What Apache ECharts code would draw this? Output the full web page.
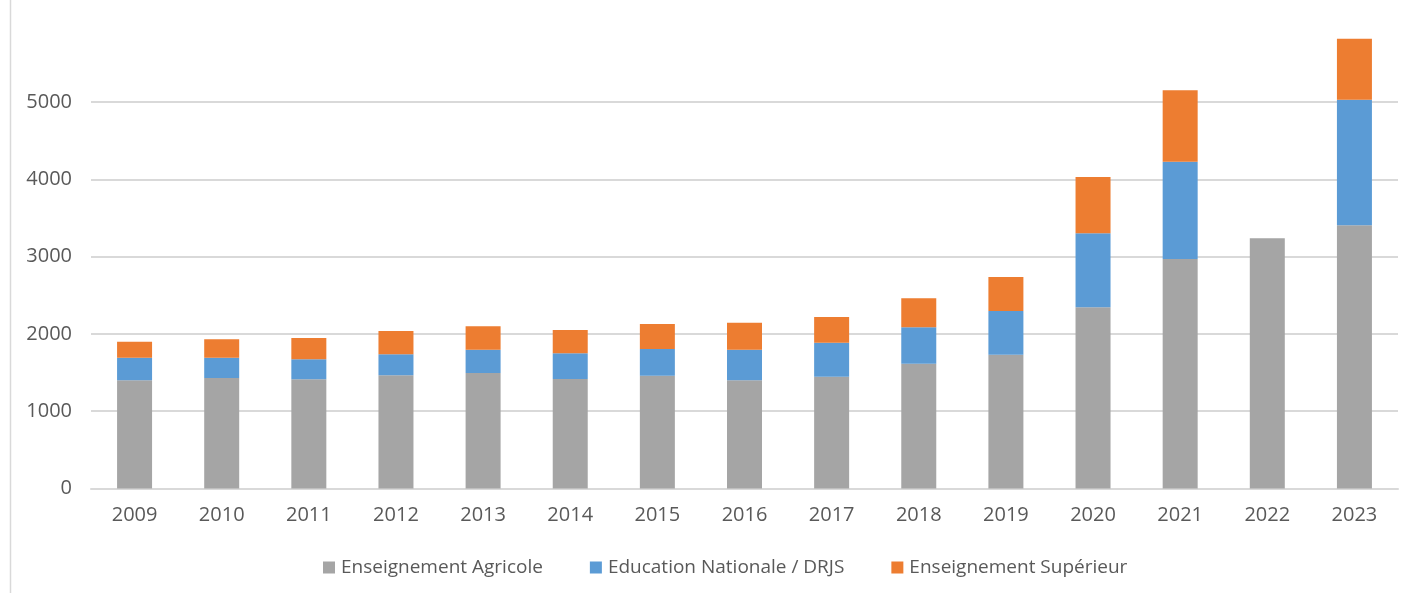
<!DOCTYPE html>
<html>
<head>
<meta charset="utf-8">
<script src="https://cdn.jsdelivr.net/npm/echarts@6/dist/echarts.min.js"></script>
<style>
html,body{margin:0;padding:0;background:#fff;}
#c{width:1413px;height:593px;}
</style>
</head>
<body>
<div id="c"></div>
<script>
const years = ['2009','2010','2011','2012','2013','2014','2015','2016','2017','2018','2019','2020','2021','2022','2023'];
const agricole = [1400,1430,1413,1464,1494,1417,1459,1400,1446,1614,1731,2344,2969,3236,3405];
const education = [292,262,258,272,302,332,346,396,440,471,565,957,1259,null,1625];
const superieur = [207,238,276,301,302,301,323,349,333,376,440,729,923,null,789];
const yTicks = [0,1000,2000,3000,4000,5000];

const FONT = 'Open Sans';
const chart = echarts.init(document.getElementById('c'));
chart.setOption({
  animation:false,
  textStyle:{fontFamily:FONT},
  graphic:[{type:'line',shape:{x1:10.5,y1:0,x2:10.5,y2:593},style:{stroke:'#D9D9D9',lineWidth:1.5}}],
  grid:{left:91,right:15,top:24.7,bottom:104.5,containLabel:false},
  legend:{
    bottom:11,left:318,itemWidth:12,itemHeight:12,itemGap:47,
    icon:'rect',
    textStyle:{color:'#595959',fontSize:19,fontFamily:FONT,padding:[0,0,0,1]},
    data:['Enseignement Agricole','Education Nationale / DRJS','Enseignement Supérieur']
  },
  xAxis:{
    type:'category',data:years,
    axisLine:{lineStyle:{color:'#D9D9D9',width:2}},
    axisTick:{show:false},
    axisLabel:{color:'#595959',fontSize:20,margin:17,fontFamily:FONT}
  },
  yAxis:{
    type:'value',min:0,max:6000,interval:1000,
    axisLine:{show:false},axisTick:{show:false},
    axisLabel:{color:'#595959',fontSize:20,margin:19,showMaxLabel:false,fontFamily:FONT,
      formatter:function(v){return yTicks.indexOf(v)>=0?String(v):'';}},
    splitLine:{lineStyle:{color:'#D9D9D9',width:2},showMaxLine:false}
  },
  series:[
    {name:'Enseignement Agricole',type:'bar',stack:'t',data:agricole,barWidth:35,itemStyle:{color:'#A5A5A5'}},
    {name:'Education Nationale / DRJS',type:'bar',stack:'t',data:education,barWidth:35,itemStyle:{color:'#5B9BD5'}},
    {name:'Enseignement Supérieur',type:'bar',stack:'t',data:superieur,barWidth:35,itemStyle:{color:'#ED7D31'}}
  ]
});
</script>
</body>
</html>
